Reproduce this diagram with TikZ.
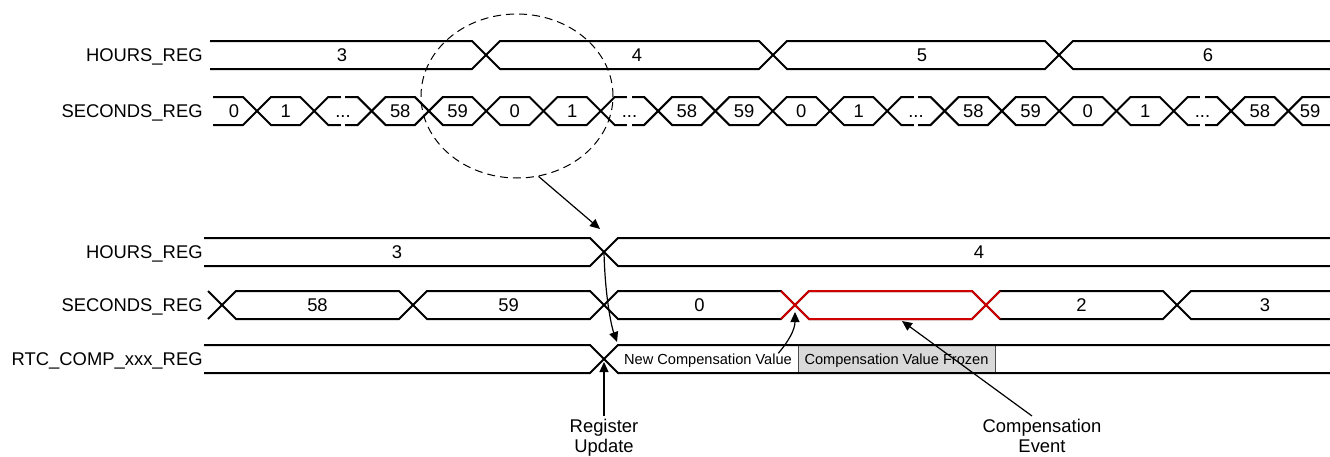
\documentclass[tikz,border=0pt]{standalone}
\usepackage{fontspec}
\setmainfont{Liberation Sans}
\usetikzlibrary{arrows.meta,shapes.geometric}
\definecolor{evred}{RGB}{208,0,0}
\definecolor{frozengray}{RGB}{217,217,217}
\newcommand{\skipped}{...}

\begin{document}
\begin{tikzpicture}[x=0.5pt, y=-0.5pt,
>={Triangle[length=5pt,width=4.5pt]},
bus/.style={line width=1pt},
sig/.style={anchor=east, inner sep=0pt, font=\fontsize{9.2}{11}\selectfont, text height=6.6pt, text depth=0pt},
val/.style={inner sep=0pt, font=\fontsize{9.2}{11}\selectfont, text height=6.6pt, text depth=0pt},
small/.style={inner sep=0pt, font=\fontsize{7.3}{9}\selectfont, text height=5.3pt, text depth=0pt},
note/.style={align=center, inner sep=1.5pt, font=\fontsize{9.2}{10}\selectfont},
pointer/.style={->, line width=0.6pt}]

\useasboundingbox (0,0) rectangle (1330,456);

% register names
\node[sig] (hrs1) at (203,55) {HOURS\_REG};
\node[sig] (sec1) at (203,111) {SECONDS\_REG};
\node[sig] (hrs2) at (203,252) {HOURS\_REG};
\node[sig] (sec2) at (203,305) {SECONDS\_REG};
\node[sig] (comp) at (203,359) {RTC\_COMP\_xxx\_REG};

% upper HOURS_REG
\draw[bus] (210,41) -- (472,41) -- (486,55) -- (472,69) -- (210,69);
\foreach \xa/\xb in {486/773, 773/1059}
  \draw[bus] (\xa,55) -- (\xa+14,41) -- (\xb-14,41) -- (\xb,55) -- (\xb-14,69) -- (\xa+14,69) -- cycle;
\draw[bus] (1330,41) -- (1073,41) -- (1059,55) -- (1073,69) -- (1330,69);
\foreach \x/\v in {342/3, 637/4, 922/5, 1208/6}
  \node[val] (h\v) at (\x,55) {\v};

% upper SECONDS_REG
\draw[bus] (213,97) -- (243,97) -- (257,111) -- (243,125) -- (213,125);
\foreach \k in {0,...,17} {
  \pgfmathsetmacro\xa{257+57.3*\k}
  \pgfmathsetmacro\xb{\xa+57.3}
  \draw[bus] (\xa,111) -- (\xa+14,97) -- (\xb-14,97) -- (\xb,111) -- (\xb-14,125) -- (\xa+14,125) -- cycle;
}
\draw[bus] (1330,97) -- (1302.4,97) -- (1288.4,111) -- (1302.4,125) -- (1330,125);
\foreach \x in {343, 629.5, 916, 1202.5}
  \fill[white] (\x-2.2,93) rectangle (\x+2.2,129);
\node[val] (s0) at (234,111) {0};
\foreach \v [count=\s] in {1,\skipped,58,59,0,1,\skipped,58,59,0,1,\skipped,58,59,0,1,\skipped,58} {
  \pgfmathsetmacro\xm{257+57.3*(\s-0.5)}
  \node[val] (s\s) at (\xm,111) {\v};
}
\node[val] (s19) at (1310,111) {59};

% magnified part
\node[draw, dashed, dash pattern=on 4pt off 2.5pt, line width=0.5pt, ellipse,
  minimum width=96pt, minimum height=82pt] (mag) at (517,96) {};

% lower HOURS_REG
\draw[bus] (204,238) -- (590,238) -- (604,252) -- (590,266) -- (204,266);
\draw[bus] (1330,238) -- (618,238) -- (604,252) -- (618,266) -- (1330,266);
\node[val] (h3b) at (397,252) {3};
\node[val] (h4b) at (979,252) {4};

% lower SECONDS_REG
\draw[bus] (208,291) -- (222,305) -- (208,319);
\foreach \k in {0,...,4} {
  \pgfmathsetmacro\xa{222+191*\k}
  \pgfmathsetmacro\xb{\xa+191}
  \draw[bus] (\xa,305) -- (\xa+14,291) -- (\xb-14,291) -- (\xb,305) -- (\xb-14,319) -- (\xa+14,319) -- cycle;
}
\draw[bus] (1330,291) -- (1191,291) -- (1177,305) -- (1191,319) -- (1330,319);
\draw[bus, evred] (781,291) -- (795,305) -- (781,319);
\draw[bus, evred] (795,305) -- (809,291) -- (972,291) -- (986,305) -- (972,319) -- (809,319) -- cycle;
\draw[bus, evred] (1000,291) -- (986,305) -- (1000,319);
\foreach \x/\v in {317.5/58, 508.5/59, 699.5/0, 1081.5/2, 1265/3}
  \node[val] (t\v) at (\x,305) {\v};

% RTC_COMP_xxx_REG
\node[small, draw=black!70, line width=0.5pt, fill=frozengray, minimum width=98.5pt,
  minimum height=14pt] (frz) at (896.5,359) {Compensation Value Frozen};
\draw[bus] (204,345) -- (590,345) -- (604,359) -- (590,373) -- (204,373);
\draw[bus] (1330,345) -- (618,345) -- (604,359) -- (618,373) -- (1330,373);
\node[small] (ncv) at (708,359) {New Compensation Value};

% callouts
\node[note, anchor=north] (reg) at (604,416) {Register\\Update};
\node[note, anchor=north] (ce) at (1042,416) {Compensation\\Event};

\coordinate (hx) at (604,252);
\coordinate (zt) at (600,229);
\coordinate (ct) at (617,342);
\coordinate (rx) at (604,362);
\coordinate (cx) at (795,312);
\coordinate (cev) at (902,321);

\draw[pointer] (mag.-75) -- (zt);
\draw[pointer] (hx) .. controls (605,295) and (611,325) .. (ct);
\draw[pointer] (reg.north) -- (rx);
\draw[pointer] ([xshift=-7pt]ncv.north east) .. controls (788,342) and (795,330) .. (cx);
\draw[pointer] ([xshift=-5pt]ce.north) -- (cev);

\end{tikzpicture}
\end{document}
